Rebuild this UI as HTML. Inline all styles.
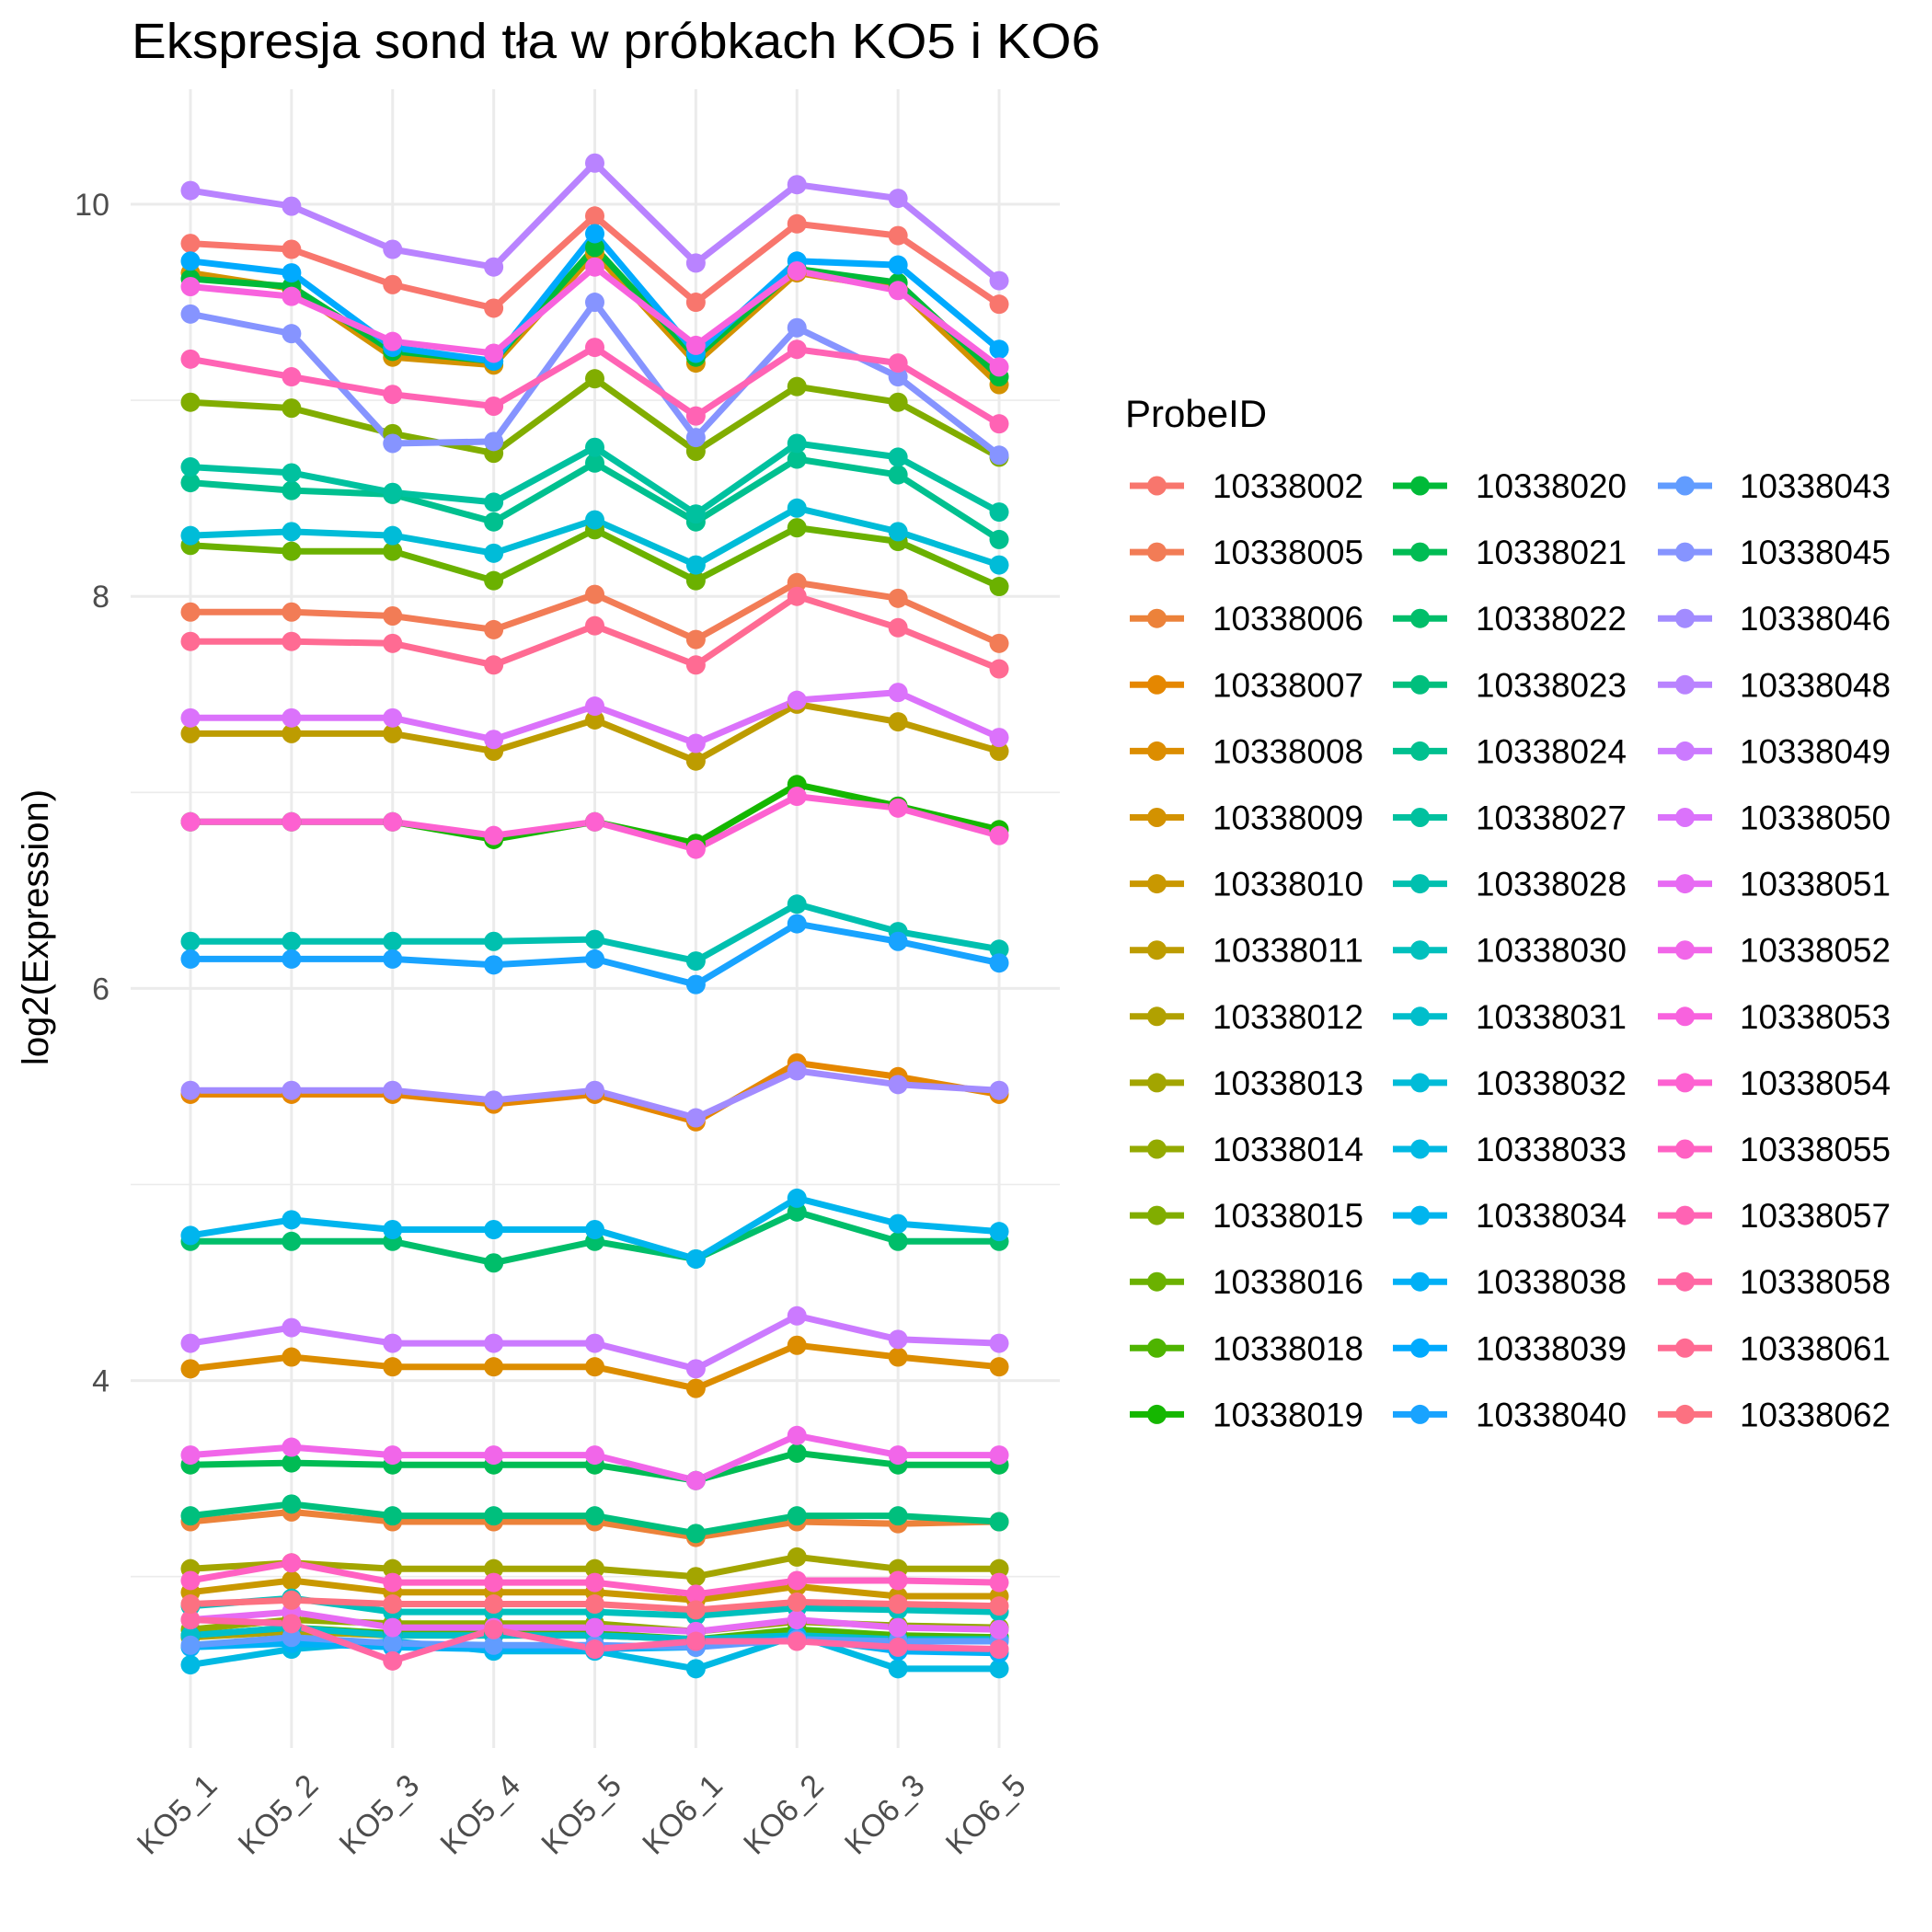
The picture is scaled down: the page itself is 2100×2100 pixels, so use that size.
<!DOCTYPE html>
<html><head><meta charset="utf-8"><style>
html,body{margin:0;padding:0;background:#fff;}
svg{display:block;font-family:"Liberation Sans",sans-serif;}
</style></head><body>
<svg id="chart" width="2100" height="2100" viewBox="0 0 2100 2100" xmlns="http://www.w3.org/2000/svg">
<rect width="2100" height="2100" fill="#fff"/>
<text x="143" y="63" font-size="54" fill="#000" textLength="1053" lengthAdjust="spacingAndGlyphs">Ekspresja sond tła w próbkach KO5 i KO6</text>
<g id="grid"></g>
<g id="lines"></g>
<g id="points"></g>
<g id="yaxis"></g>
<g id="xaxis"></g>
<text transform="translate(52,1008) rotate(-90)" text-anchor="middle" font-size="40" fill="#000">log2(Expression)</text>
<g id="legend"></g>
</svg>
<script>
const categories = ["KO5_1","KO5_2","KO5_3","KO5_4","KO5_5","KO6_1","KO6_2","KO6_3","KO6_5"];
const yTicks = [4,6,8,10];
const yMinor = [3,5,7,9];
const probeIds = ["10338002","10338005","10338006","10338007","10338008","10338009","10338010","10338011","10338012","10338013","10338014","10338015","10338016","10338018","10338019","10338020","10338021","10338022","10338023","10338024","10338027","10338028","10338030","10338031","10338032","10338033","10338034","10338038","10338039","10338040","10338043","10338045","10338046","10338048","10338049","10338050","10338051","10338052","10338053","10338054","10338055","10338057","10338058","10338061","10338062"];
const values = [
[9.80,9.77,9.59,9.47,9.94,9.50,9.90,9.84,9.49],
[7.92,7.92,7.90,7.83,8.01,7.78,8.07,7.99,7.76],
[3.28,3.33,3.28,3.28,3.28,3.20,3.28,3.27,3.28],
[5.46,5.46,5.46,5.41,5.46,5.32,5.62,5.55,5.46],
[4.06,4.12,4.07,4.07,4.07,3.96,4.18,4.12,4.07],
[9.65,9.57,9.22,9.18,9.75,9.19,9.65,9.57,9.08],
[2.92,2.98,2.92,2.92,2.92,2.88,2.95,2.90,2.90],
[7.30,7.30,7.30,7.21,7.37,7.16,7.45,7.36,7.21],
[2.69,2.72,2.70,2.70,2.70,2.68,2.72,2.69,2.69],
[3.04,3.07,3.04,3.04,3.04,3.00,3.10,3.04,3.04],
[2.73,2.78,2.76,2.76,2.76,2.72,2.77,2.75,2.74],
[8.99,8.96,8.83,8.73,9.11,8.74,9.07,8.99,8.71],
[8.26,8.23,8.23,8.08,8.34,8.08,8.35,8.28,8.05],
[2.70,2.74,2.71,2.71,2.71,2.68,2.73,2.70,2.69],
[6.85,6.85,6.85,6.76,6.85,6.74,7.04,6.93,6.81],
[9.62,9.58,9.25,9.20,9.78,9.22,9.67,9.60,9.12],
[3.57,3.58,3.57,3.57,3.57,3.49,3.63,3.57,3.57],
[4.71,4.71,4.71,4.60,4.71,4.62,4.86,4.71,4.71],
[3.31,3.37,3.31,3.31,3.31,3.22,3.31,3.31,3.28],
[8.58,8.54,8.52,8.38,8.68,8.38,8.70,8.62,8.29],
[8.66,8.63,8.53,8.48,8.76,8.42,8.78,8.71,8.43],
[6.24,6.24,6.24,6.24,6.25,6.14,6.43,6.29,6.20],
[2.85,2.89,2.82,2.82,2.82,2.80,2.84,2.83,2.82],
[2.70,2.74,2.70,2.70,2.70,2.68,2.70,2.68,2.68],
[8.31,8.33,8.31,8.22,8.39,8.16,8.45,8.33,8.16],
[2.55,2.63,2.67,2.62,2.62,2.53,2.70,2.53,2.53],
[4.74,4.82,4.77,4.77,4.77,4.62,4.93,4.80,4.76],
[2.64,2.66,2.64,2.63,2.63,2.64,2.69,2.62,2.61],
[9.71,9.65,9.27,9.20,9.85,9.24,9.71,9.69,9.26],
[6.15,6.15,6.15,6.12,6.15,6.02,6.33,6.24,6.13],
[2.65,2.69,2.66,2.65,2.65,2.64,2.68,2.67,2.67],
[9.44,9.34,8.78,8.79,9.50,8.81,9.37,9.12,8.72],
[5.48,5.48,5.48,5.43,5.48,5.34,5.58,5.51,5.48],
[10.07,9.99,9.77,9.68,10.21,9.70,10.10,10.03,9.61],
[4.19,4.27,4.19,4.19,4.19,4.06,4.33,4.21,4.19],
[7.38,7.38,7.38,7.27,7.44,7.25,7.47,7.51,7.28],
[2.78,2.82,2.74,2.74,2.74,2.72,2.78,2.74,2.73],
[3.62,3.66,3.62,3.62,3.62,3.49,3.72,3.62,3.62],
[9.58,9.53,9.30,9.24,9.68,9.28,9.66,9.56,9.17],
[6.85,6.85,6.85,6.78,6.85,6.71,6.98,6.92,6.78],
[2.98,3.07,2.97,2.97,2.97,2.91,2.98,2.98,2.97],
[9.21,9.12,9.03,8.97,9.27,8.92,9.26,9.19,8.88],
[2.78,2.76,2.57,2.73,2.63,2.67,2.67,2.64,2.63],
[7.77,7.77,7.76,7.65,7.85,7.65,8.00,7.84,7.63],
[2.86,2.88,2.86,2.86,2.86,2.83,2.87,2.86,2.85]
];

const NS = "http://www.w3.org/2000/svg";
const P = {left:142, right:1152, top:97, bottom:1900};
const x0 = 207, xStep = (1086-207)/8;
function xScale(i){ return x0 + i*xStep; }
function yScale(v){ return 222 + (10 - v)*213.1; }
function hcl(h){
  const L=65,C=100,hr=h*Math.PI/180;
  const u=C*Math.cos(hr), v=C*Math.sin(hr);
  const Xn=95.047,Yn=100,Zn=108.883;
  const un=4*Xn/(Xn+15*Yn+3*Zn), vn=9*Yn/(Xn+15*Yn+3*Zn);
  const Y=Yn*Math.pow((L+16)/116,3);
  const up=u/(13*L)+un, vp=v/(13*L)+vn;
  const X=9*Y*up/(4*vp), Z=-X/3-5*Y+3*Y/vp;
  const x=X/100,y=Y/100,z=Z/100;
  let r=3.2404542*x-1.5371385*y-0.4985314*z;
  let g=-0.9692660*x+1.8760108*y+0.0415560*z;
  let b=0.0556434*x-0.2040259*y+1.0572252*z;
  const gam=c=>{c=c<=0.0031308?12.92*c:1.055*Math.pow(c,1/2.4)-0.055;return Math.round(Math.max(0,Math.min(1,c))*255);};
  return "rgb("+gam(r)+","+gam(g)+","+gam(b)+")";
}
function colorFor(i){ return hcl(15 + 360*i/probeIds.length); }
function mk(tag, attrs, parent){
  const e=document.createElementNS(NS,tag);
  for(const k in attrs) e.setAttribute(k,attrs[k]);
  parent.appendChild(e); return e;
}
const grid=document.getElementById('grid');
yMinor.forEach(v=>{
  const l=mk('line',{x1:P.left,x2:P.right,y1:yScale(v),y2:yScale(v),stroke:'#ebebeb','stroke-width':1.6},grid);
  
  
});
yTicks.forEach(v=>{
  const l=mk('line',{x1:P.left,x2:P.right,y1:yScale(v),y2:yScale(v),stroke:'#ebebeb','stroke-width':3},grid);
  
  
});
categories.forEach((c,i)=>{
  const l=mk('line',{x1:xScale(i),x2:xScale(i),y1:P.top,y2:P.bottom,stroke:'#ebebeb','stroke-width':3},grid);
  
  
});
const yaxis=document.getElementById('yaxis');
yTicks.forEach(v=>{
  const t=mk('text',{x:119,y:yScale(v)+12,'text-anchor':'end','font-size':34,fill:'#4d4d4d'},yaxis);
  t.textContent=String(v);
  
  
});
const xaxis=document.getElementById('xaxis');
categories.forEach((c,i)=>{
  const t=mk('text',{transform:'translate('+(xScale(i)+14)+',1926) rotate(-45)','text-anchor':'end','font-size':34,fill:'#4d4d4d',dy:'0.7em'},xaxis);
  t.textContent=c;
  
  
});
const lines=document.getElementById('lines'), points=document.getElementById('points');
values.forEach((vals,s)=>{
  const col=colorFor(s);
  const d=vals.map((v,i)=>(i?'L':'M')+xScale(i).toFixed(1)+','+yScale(v).toFixed(1)).join(' ');
  const p=mk('path',{d:d,fill:'none',stroke:col,'stroke-width':7,'stroke-linejoin':'round'},lines);
  
  
});
values.forEach((vals,s)=>{
  const col=colorFor(s);
  vals.forEach((v,i)=>{
    const c=mk('circle',{cx:xScale(i),cy:yScale(v),r:10.5,fill:col},points);
    
    
  });
});
const legend=document.getElementById('legend');
const lt=mk('text',{x:1223,y:464,'font-size':42,fill:'#000'},legend);
lt.textContent='ProbeID';


const colKey=[1228,1514,1802], colText=[1318,1604,1891];
probeIds.forEach((id,s)=>{
  const col=Math.floor(s/15), row=s%15;
  const y=528+row*72.1;
  const g=mk('g',{},legend);
  
  
  mk('line',{x1:colKey[col],x2:colKey[col]+59,y1:y,y2:y,stroke:colorFor(s),'stroke-width':7},g);
  mk('circle',{cx:colKey[col]+29.5,cy:y,r:10.5,fill:colorFor(s)},g);
  const t=mk('text',{x:colText[col],y:y+13,'font-size':37,fill:'#000',textLength:164,lengthAdjust:'spacingAndGlyphs'},g);
  t.textContent=id;
});
</script>
</body></html>
